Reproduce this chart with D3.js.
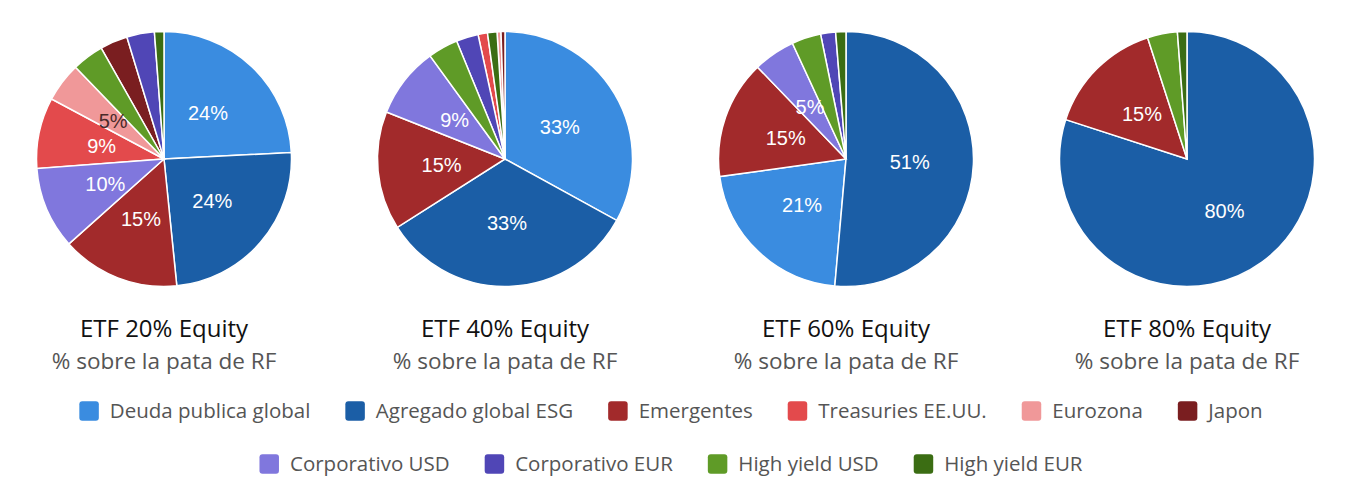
<!DOCTYPE html>
<html>
<head>
<meta charset="utf-8">
<script src="https://cdn.jsdelivr.net/npm/d3@7"></script>
<style>
  body { margin: 0; background: #fff; }
  svg { display: block; font-family: "Open Sans", sans-serif; }
</style>
</head>
<body>
<div class="chart"></div>
<script>
var svgWidth = 1350;
var svgHeight = 478;

// categories in legend order, with their colours
var categories = ["Deuda publica global", "Agregado global ESG", "Emergentes", "Treasuries EE.UU.",
  "Eurozona", "Japon", "Corporativo USD", "Corporativo EUR", "High yield USD", "High yield EUR"];
var colors = ["#3a8ce0", "#1b5ea6", "#a22a2b", "#e34a4c", "#f09899", "#7a1e20",
  "#8077dd", "#5046b6", "#5f9b27", "#3b6d13"];

// % of the fixed income leg, same order as categories
var values20 = [24.2, 24.2, 15, 9, 5, 3.5, 10.4, 3.5, 4, 1.2];
var values40 = [33, 33, 15, 1.2, 0.5, 0.5, 9, 2.8, 3.8, 1.2];
var values60 = [21.4, 51.4, 15, 0, 0, 0, 5.3, 1.9, 3.7, 1.3];
var values80 = [0, 80, 15, 0, 0, 0, 0, 0, 3.8, 1.2];

var titles = ["ETF 20% Equity", "ETF 40% Equity", "ETF 60% Equity", "ETF 80% Equity"];
var subtitle = "% sobre la pata de RF";

var legendRows = [categories.slice(0, 6), categories.slice(6)];

var series = [values20, values40, values60, values80];

var svg = d3.select(".chart")
  .append("svg")
  .attr("width", svgWidth)
  .attr("height", svgHeight);

var radius = 127.5;
var cy = 159;
var cx = d3.scalePoint()
  .domain(titles)
  .range([164, 1187]);

var color = d3.scaleOrdinal()
  .domain(categories)
  .range(colors);

var pie = d3.pie()
  .value(d => d.value);   // default sort: descending by value

var arc = d3.arc()
  .innerRadius(0)
  .outerRadius(radius);

series.forEach((vals, i) => {
  var data = categories.map((c, k) => ({ cat: c, value: vals[k] }))
    .filter(d => d.value > 0);
  var total = d3.sum(data, d => d.value);

  var g = svg.append("g")
    .attr("transform", `translate(${cx(titles[i])}, ${cy})`);

  var arcs = pie(data);

  g.selectAll(".slice")
    .data(arcs)
    .enter()
    .append("path")
    .attr("class", "slice")
    .attr("d", arc)
    .attr("fill", d => color(d.data.cat))
    .attr("stroke", "#fff")
    .attr("stroke-width", 1.5);

  g.selectAll(".sliceText")
    .data(arcs.filter(d => d.data.value / total > 0.045))
    .enter()
    .append("text")
    .attr("class", "sliceText")
    .attr("transform", d => `translate(${arc.centroid(d)})`)
    .attr("text-anchor", "middle")
    .attr("dy", "0.36em")
    .attr("font-family", "'Liberation Sans', Arial, sans-serif")
    .attr("font-size", "20px")
    .attr("fill", d => d3.hsl(color(d.data.cat)).l > 0.7 ? "#4a2a2a" : "#fff")
    .text(d => Math.round(d.data.value / total * 100) + "%");

  // titles under each pie
  svg.append("text")
    .attr("x", cx(titles[i]))
    .attr("y", 337)
    .attr("text-anchor", "middle")
    .attr("font-size", "24px")
    .attr("fill", "#111")
    .text(titles[i]);

  svg.append("text")
    .attr("x", cx(titles[i]))
    .attr("y", 369)
    .attr("text-anchor", "middle")
    .attr("font-size", "22.5px")
    .attr("fill", "#555")
    .text(subtitle);
});

// legend, two centred rows
var swatch = 19.5;
var legendY = [411, 464];
legendRows.forEach((row, r) => {
  var lg = svg.append("g");
  var x = 0;
  row.forEach(cat => {
    var item = lg.append("g").attr("transform", `translate(${x}, 0)`);
    item.append("rect")
      .attr("y", -swatch / 2)
      .attr("width", swatch)
      .attr("height", swatch)
      .attr("rx", 3)
      .attr("fill", color(cat));
    var t = item.append("text")
      .attr("x", swatch + 11)
      .attr("dy", "0.35em")
      .attr("font-size", "20.5px")
      .attr("fill", "#555")
      .text(cat);
    x += swatch + 11 + t.node().getComputedTextLength() + 35;
  });
  var rowWidth = x - 35;
  lg.attr("transform", `translate(${671 - rowWidth / 2}, ${legendY[r]})`);
});
</script>
</body>
</html>
